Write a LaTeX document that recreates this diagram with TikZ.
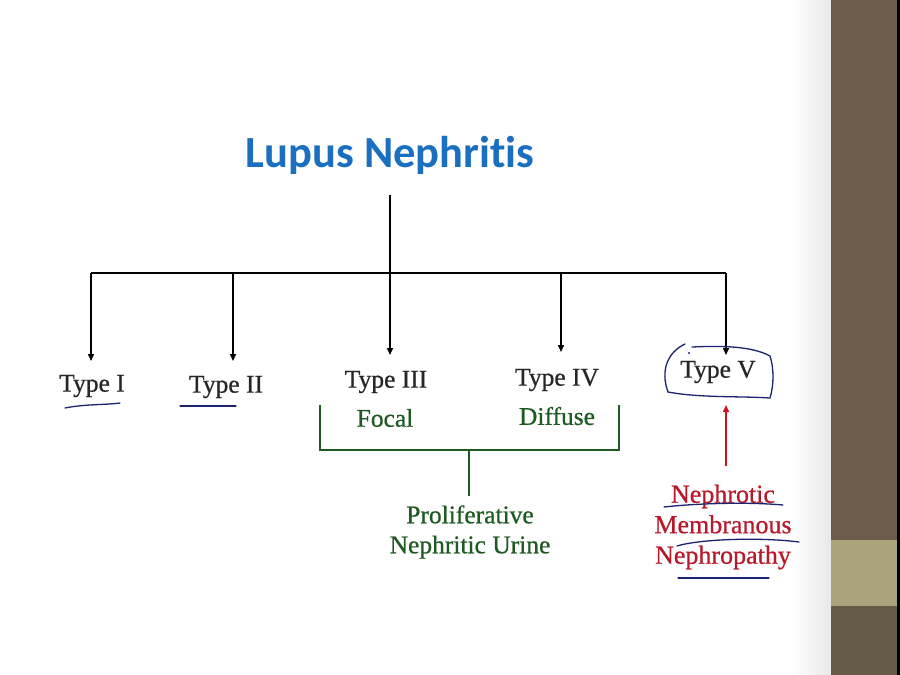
\documentclass[tikz,border=0pt]{standalone}
\usepackage{fontspec}
\setmainfont{Liberation Serif}[FakeBold=0.6]
\newfontfamily\titlefont{Carlito}[Ligatures={NoCommon}]
\usetikzlibrary{arrows.meta}
\definecolor{titleblue}{HTML}{1A6FC0}
\definecolor{greentxt}{HTML}{1F5A22}
\definecolor{redtxt}{HTML}{B8182A}
\definecolor{redarr}{HTML}{D0121E}
\definecolor{navy}{HTML}{1B2470}
\definecolor{barbrown}{HTML}{6B5D4A}
\definecolor{barbrown2}{HTML}{645C49}
\definecolor{barband}{HTML}{AAA47C}
\tikzset{
  typelabel/.style={font=\fontsize{25.5}{28}\selectfont, text=black!85, inner sep=0pt},
  greenlabel/.style={font=\fontsize{25.5}{30}\selectfont, text=greentxt, inner sep=0pt, align=center},
  redlabel/.style={font=\fontsize{26}{30.5}\selectfont, text=redtxt, inner sep=0pt, align=center},
  blackarrow/.style={draw=black, line width=1.5pt, -{Triangle[length=7pt,width=6pt]}},
  blackline/.style={draw=black, line width=1.5pt},
  greenline/.style={draw=greentxt, line width=1.6pt},
  penline/.style={draw=navy, line width=1.3pt, line cap=round},
}
\begin{document}
\begin{tikzpicture}[x=1pt,y=-1pt]
\useasboundingbox (0,0) rectangle (900,675);
% background
\fill[white] (0,0) rectangle (900,675);
\shade[left color=white, right color=black!9] (790,0) rectangle (831,675);
\fill[barbrown] (831,0) rectangle (897,540);
\fill[barband] (831,540) rectangle (897,606);
\fill[barbrown2] (831,606) rectangle (897,675);
\fill[black] (897,0) rectangle (900,675);

% title
\node[font=\titlefont\bfseries\fontsize{44.5}{48}\selectfont, text=titleblue, inner sep=0pt] (title) at (390,155) {Lupus Nephritis};

% tree
\coordinate (top) at (390,195);
\coordinate (hub) at (390,273);
\coordinate (hl) at (91,273);
\coordinate (hr) at (726,273);
\draw[blackline] (top) -- (hub);
\draw[blackline] (hl) -- (hr);

\node[typelabel] (t1) at (92,386) {Type I};
\node[typelabel] (t2) at (226,387) {Type II};
\node[typelabel] (t3) at (386,382) {Type III};
\node[typelabel] (t4) at (557,380) {Type IV};
\node[typelabel] (t5) at (718,372) {Type V};

\coordinate (a1) at (91,361);
\coordinate (a2) at (233,361);
\coordinate (a3) at (390,355);
\coordinate (a4) at (561,352);
\coordinate (a5) at (726,355);
\draw[blackarrow] (hl) -- (a1);
\draw[blackarrow] (233,273) -- (a2);
\draw[blackarrow] (hub) -- (a3);
\draw[blackarrow] (561,273) -- (a4);
\draw[blackarrow] (hr) -- (a5);

% green part
\node[greenlabel] (focal) at (385,418) {Focal};
\node[greenlabel] (diffuse) at (557,416) {Diffuse};
\coordinate (bl) at (320,405);
\coordinate (br) at (619,405);
\coordinate (stem) at (469,450);
\coordinate (stemend) at (469,496);
\draw[greenline] (bl) -- (320,450) -- (619,450) -- (br);
\draw[greenline] (stem) -- (stemend);
\node[greenlabel] (prolif) at (470,532) {Proliferative\\Nephritic Urine};

% red part
\node[redlabel] (neph) at (723,527) {Nephrotic\\Membranous\\Nephropathy};
\coordinate (rs) at (726,466);
\coordinate (re) at (726,405);
\draw[draw=redarr, line width=1.4pt, -{Triangle[length=7pt,width=6pt]}] (rs) -- (re);

% handwritten pen marks
\draw[penline] (65,408) .. controls (85,404) and (105,405) .. (120,403);
\draw[penline] (180,406) -- (236,406);
\draw[penline] (685,344) .. controls (668,352) and (660,370) .. (668,392)
   .. controls (700,398) and (740,396) .. (770,398)
   .. controls (774,385) and (774,368) .. (770,356)
   .. controls (750,345) and (715,346) .. (692,347);
\fill[navy] (689,353) circle (1.2pt);
\draw[penline] (664,507) .. controls (700,503) and (750,502) .. (783,505);
\draw[penline] (677,546) .. controls (700,539) and (760,537) .. (799,542);
\draw[penline] (678,578) -- (769,578);
\end{tikzpicture}
\end{document}
